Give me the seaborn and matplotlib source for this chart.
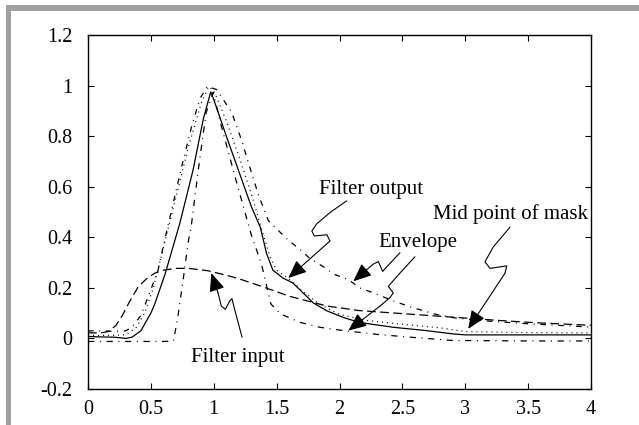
import matplotlib
matplotlib.use("Agg")
import matplotlib.pyplot as plt
from matplotlib.patches import Rectangle
from matplotlib import font_manager
import pandas as pd
import seaborn as sns

# ---------------- data ----------------
out_x = [0.0, 0.1, 0.2, 0.25, 0.3, 0.35, 0.42, 0.5, 0.53, 0.61, 0.66, 0.73, 0.835, 0.917, 0.976,
         1.0, 1.1, 1.2, 1.3, 1.37, 1.42, 1.47, 1.55, 1.63, 1.71, 1.79, 1.9, 2.03, 2.16, 2.43,
         2.69, 2.9, 3.0, 3.5, 4.0]
out_y = [0.008, 0.006, 0.005, 0.003, 0.0, 0.005, 0.03, 0.1, 0.135, 0.25, 0.335, 0.455, 0.665, 0.868, 0.975,
         0.945, 0.80, 0.66, 0.52, 0.44, 0.336, 0.27, 0.239, 0.219, 0.18, 0.141, 0.109, 0.083, 0.063, 0.044,
         0.031, 0.018, 0.014, 0.014, 0.014]

inp_x = [0.0, 0.1, 0.16, 0.22, 0.27, 0.33, 0.4, 0.47, 0.53, 0.6, 0.7, 0.8, 0.95, 1.1, 1.2, 1.38,
         1.6, 1.9, 2.16, 2.56, 2.93, 3.3, 3.6, 4.0]
inp_y = [0.022, 0.022, 0.027, 0.05, 0.088, 0.145, 0.205, 0.238, 0.258, 0.27, 0.277, 0.277, 0.268, 0.25,
         0.236, 0.206, 0.167, 0.128, 0.11, 0.096, 0.083, 0.07, 0.061, 0.052]

mid_x = [0.0, 0.2, 0.3, 0.38, 0.45, 0.52, 0.6, 0.7, 0.8, 0.9, 0.96, 1.0, 1.1, 1.2, 1.3, 1.4, 1.45,
         1.5, 1.6, 1.7, 1.8, 1.9, 2.0, 2.2, 2.5, 2.8, 3.0, 3.5, 4.0]
mid_y = [0.012, 0.012, 0.015, 0.04, 0.1, 0.2, 0.36, 0.56, 0.76, 0.93, 0.995, 0.98, 0.86, 0.72, 0.57, 0.4,
         0.32, 0.27, 0.235, 0.19, 0.15, 0.12, 0.095, 0.072, 0.056, 0.042, 0.027, 0.023, 0.022]

upper_x = [0.0, 0.1, 0.2, 0.3, 0.35, 0.42, 0.49, 0.557, 0.61, 0.68, 0.745, 0.825, 0.89, 0.95, 1.023,
           1.143, 1.222, 1.285, 1.354, 1.434, 1.513, 1.59, 1.69, 1.765, 1.87, 1.96, 2.07, 2.16, 2.27,
           2.43, 2.58, 2.77, 2.93, 3.2, 3.5, 4.0]
upper_y = [0.03, 0.03, 0.028, 0.03, 0.045, 0.09, 0.18, 0.27, 0.39, 0.54, 0.68, 0.84, 0.948, 0.997, 0.984,
           0.894, 0.783, 0.68, 0.57, 0.466, 0.427, 0.39, 0.35, 0.316, 0.284, 0.253, 0.233, 0.2, 0.18,
           0.148, 0.122, 0.095, 0.08, 0.068, 0.058, 0.045]

lower_x = [0.0, 0.6, 0.68, 0.716, 0.756, 0.8, 0.82, 0.877, 0.94, 0.995, 1.063, 1.18, 1.30, 1.378, 1.43,
           1.455, 1.53, 1.69, 1.845, 2.03, 2.3, 2.56, 2.9, 3.5, 4.0]
lower_y = [-0.012, -0.012, -0.01, 0.09, 0.23, 0.39, 0.44, 0.667, 0.894, 0.973, 0.835, 0.62, 0.407, 0.297,
           0.187, 0.136, 0.097, 0.063, 0.044, 0.031, 0.016, 0.005, -0.008, -0.01, -0.01]

x_ticks = [0, 0.5, 1, 1.5, 2, 2.5, 3, 3.5, 4]
x_tick_labels = ["0", "0.5", "1", "1.5", "2", "2.5", "3", "3.5", "4"]
y_ticks = [-0.2, 0, 0.2, 0.4, 0.6, 0.8, 1.0, 1.2]
y_tick_labels = ["-0.2", "0", "0.2", "0.4", "0.6", "0.8", "1", "1.2"]

# annotation texts and leader lines (data coords)
labels = ["Filter output", "Envelope", "Mid point of mask", "Filter input"]
label_pos = [(2.25, 0.59), (2.62, 0.38), (3.36, 0.49), (1.19, -0.075)]
leaders = [
    [(2.057, 0.544), (1.93, 0.50), (1.818, 0.453), (1.78, 0.425), (1.80, 0.405), (1.90, 0.41),
     (1.924, 0.385), (1.593, 0.239)],
    [(2.481, 0.339), (2.402, 0.297), (2.343, 0.265), (2.309, 0.304), (2.269, 0.294), (2.19, 0.261),
     (2.11, 0.226)],
    [(2.60, 0.323), (2.48, 0.258), (2.388, 0.206), (2.428, 0.18), (2.40, 0.161), (2.322, 0.128),
     (2.07, 0.031)],
    [(3.356, 0.44), (3.223, 0.362), (3.157, 0.303), (3.197, 0.277), (3.33, 0.287), (3.316, 0.258),
     (3.024, 0.038)],
    [(1.225, 0.005), (1.166, 0.115), (1.145, 0.157), (1.127, 0.148), (1.092, 0.115), (1.06, 0.128),
     (1.034, 0.18), (0.981, 0.258)],
]

# ---------------- styling ----------------
sns.set_theme(style="ticks")

# locate a Times-like serif font file directly
serif_file = None
for f in font_manager.fontManager.ttflist:
    if f.name == "Liberation Serif" and f.style == "normal" and f.weight in (400, "normal", "regular"):
        serif_file = f.fname
        break
if serif_file is None:
    for f in font_manager.fontManager.ttflist:
        if "Serif" in f.name and f.style == "normal":
            serif_file = f.fname
            break
if serif_file is not None:
    font_manager.fontManager.addfont(serif_file)
    fam = font_manager.FontProperties(fname=serif_file).get_name()
else:
    fam = "DejaVu Serif"
plt.rcParams["font.family"] = [fam, "DejaVu Serif"]

def fp(size):
    if serif_file is not None:
        return font_manager.FontProperties(fname=serif_file, size=size)
    return font_manager.FontProperties(family="serif", size=size)

fig = plt.figure(figsize=(6.39, 4.25), dpi=100)
fig.patch.set_facecolor("white")
# grey frame (top and left) as in the scanned figure
fig.patches.append(Rectangle((6 / 639, 0), 5 / 639, 1 - 5 / 425, transform=fig.transFigure,
                             facecolor="#a0a0a0", edgecolor="none", zorder=0))
fig.patches.append(Rectangle((6 / 639, 1 - 11 / 425), 1 - 6 / 639, 6 / 425, transform=fig.transFigure,
                             facecolor="#a0a0a0", edgecolor="none", zorder=0))

ax = fig.add_axes([88 / 639, 36 / 425, 503 / 639, 354 / 425])
ax.set_facecolor("white")

lw = 0.9
series = [
    (out_x, out_y, "solid"),
    (inp_x, inp_y, (0, (7, 3.5))),
    (mid_x, mid_y, (0, (0.8, 3.2))),
    (upper_x, upper_y, (0, (4.5, 4.5, 0.8, 4.5))),
    (lower_x, lower_y, (0, (5, 4.5, 0.8, 4.5))),
]
for xs, ys, ls in series:
    df = pd.DataFrame({"x": xs, "y": ys})
    sns.lineplot(data=df, x="x", y="y", ax=ax, color="black", linewidth=lw, linestyle=ls,
                 sort=False, estimator=None)

ax.set_xlim(0, 4)
ax.set_ylim(-0.2, 1.2)
ax.set_xticks(x_ticks)
ax.set_xticklabels(x_tick_labels)
ax.set_yticks(y_ticks)
ax.set_yticklabels(y_tick_labels)
for lab in ax.get_xticklabels() + ax.get_yticklabels():
    lab.set_fontproperties(fp(14.5))
ax.set_xlabel("")
ax.set_ylabel("")
ax.tick_params(direction="in", length=4, width=0.8, top=True, right=True,
               colors="black")
ax.tick_params(axis="y", pad=11)
ax.tick_params(axis="x", pad=8)
for s in ax.spines.values():
    s.set_visible(True)
    s.set_linewidth(1.0)
    s.set_color("black")

for txt, (tx, ty) in zip(labels, label_pos):
    ax.text(tx, ty, txt, ha="center", va="center", color="black", fontproperties=fp(15))

for pts in leaders:
    xs = [p[0] for p in pts]
    ys = [p[1] for p in pts]
    ax.plot(xs[:-1], ys[:-1], color="black", linewidth=0.8, solid_joinstyle="round")
    ax.annotate("", xy=pts[-1], xytext=pts[-2],
                arrowprops=dict(arrowstyle="-|>,head_length=0.7,head_width=0.3", color="black",
                                lw=0.8, shrinkA=0, shrinkB=0, mutation_scale=16))

fig.savefig("out.png", dpi=100)
